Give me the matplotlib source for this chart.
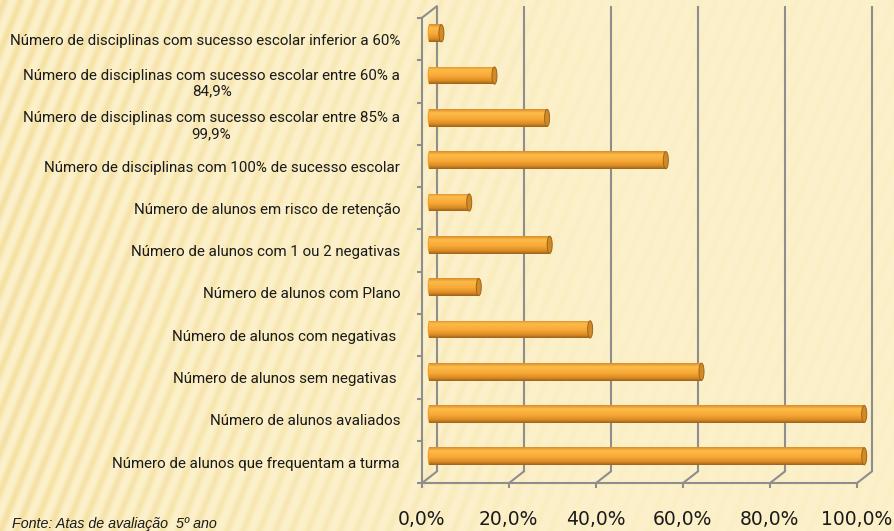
import numpy as np
import matplotlib
matplotlib.use("Agg")
import matplotlib.pyplot as plt
from matplotlib.patches import Ellipse
from matplotlib.colors import LinearSegmentedColormap
from matplotlib.ticker import FuncFormatter, FixedLocator

categorias = [
    "Número de disciplinas com sucesso escolar inferior a 60%",
    "Número de disciplinas com sucesso escolar entre 60% a\n84,9%",
    "Número de disciplinas com sucesso escolar entre 85% a\n99,9%",
    "Número de disciplinas com 100% de sucesso escolar",
    "Número de alunos em risco de retenção",
    "Número de alunos com 1 ou 2 negativas",
    "Número de alunos com Plano",
    "Número de alunos com negativas ",
    "Número de alunos sem negativas ",
    "Número de alunos avaliados",
    "Número de alunos que frequentam a turma",
]
percentagens = [2.8, 15.0, 27.1, 54.4, 9.2, 27.7, 11.4, 37.0, 62.6, 100.0, 100.0]
ticks_x = [0, 20, 40, 60, 80, 100]
fonte = "Fonte: Atas de avaliação  5º ano"

W, H = 894, 531
fig = plt.figure(figsize=(W / 100, H / 100), dpi=100)

# fundo com riscas diagonais (so decoracao)
bg = fig.add_axes([0, 0, 1, 1], zorder=-10)
yy, xx = np.mgrid[0:H, 0:W].astype(float)
ang = np.deg2rad(68)
fase = xx * np.sin(ang) + yy * np.cos(ang)
s = 0.5 + 0.5 * np.sin(2 * np.pi * fase / 15.0)
s2 = 0.5 + 0.5 * np.sin(2 * np.pi * fase / 41.0 + 1.0)
fade = np.clip(1.0 - xx / 700.0, 0.15, 1.0)
base = np.array([252, 241, 203]) / 255
escuro = np.array([244, 226, 160]) / 255
rosa = np.array([246, 219, 172]) / 255
k = (s ** 1.5 * fade)[..., None]
mix = escuro * (1 - 0.4 * s2[..., None]) + rosa * 0.4 * s2[..., None]
img = base * (1 - k) + mix * k
bg.imshow(img, aspect="auto", extent=(0, 1, 0, 1), origin="upper")
bg.set_xlim(0, 1)
bg.set_ylim(0, 1)
bg.axis("off")

# eixo principal (plano da frente)
ax = fig.add_axes([421.7 / W, 1 - 483.3 / H, 435 / W, 465.3 / H])
ax.set_facecolor("none")
n = len(categorias)
pos = np.arange(n)
px_x = 435 / 100
px_y = 465.3 / n
dxb, dyb = 15 / px_x, 11.7 / px_y
dxm, dym = dxb / 2, dyb / 2
cinza = "#8E8E8E"

# parede do fundo e chao
for t in ticks_x:
    ax.plot([t + dxb, t + dxb], [n - 0.5 - dyb, -0.5 - dyb], color=cinza, lw=1.5,
            clip_on=False, zorder=1, solid_capstyle="butt")
    ax.plot([t, t + dxb], [n - 0.5, n - 0.5 - dyb], color=cinza, lw=1.5,
            clip_on=False, zorder=1)
ax.plot([0, dxb], [-0.5, -0.5 - dyb], color=cinza, lw=1.5, clip_on=False, zorder=1)

# barras cilindricas
cmap = LinearSegmentedColormap.from_list(
    "cil", [(0, "#D98C26"), (0.2, "#FCBB4A"), (0.55, "#F8A835"),
            (0.82, "#DB8C24"), (1, "#9C621A")])
grad = np.linspace(0, 1, 64)[:, None]
bh = 0.42
bars = ax.barh(pos - dym, percentagens, left=dxm, height=bh, color="#F6A534",
               lw=0, zorder=3)
for b, v, p in zip(bars, percentagens, pos):
    yc = p - dym
    ax.add_patch(Ellipse((dxm, yc), width=3 / px_x, height=bh, facecolor="#EFA030",
                         lw=0, zorder=2.9, clip_on=False))
    im = ax.imshow(grad, cmap=cmap, aspect="auto", origin="upper", zorder=3.1,
                   extent=(dxm, dxm + v, yc + bh / 2, yc - bh / 2))
    im.set_clip_path(b)
    ax.add_patch(Ellipse((dxm + v, yc), width=5 / px_x, height=bh * 0.97,
                         facecolor="#D08A26", edgecolor="#A0641A", lw=0.7,
                         zorder=3.2, clip_on=False))

ax.set_xlim(0, 100)
ax.set_ylim(n - 0.5, -0.5)

ax.set_xticks(ticks_x)
ax.xaxis.set_major_formatter(FuncFormatter(lambda v, _: f"{v:.1f}".replace(".", ",") + "%"))
ax.tick_params(axis="x", length=3.6, width=1.5, color=cinza, pad=15.5, labelsize=13.5,
               labelcolor="#1a1a1a")
ax.set_yticks(pos)
ax.set_yticklabels(categorias, fontsize=10.9, fontfamily="Roboto", linespacing=1.15,
                   multialignment="center", color="#1a1a1a")
ax.yaxis.set_minor_locator(FixedLocator(np.arange(n + 1) - 0.5))
ax.tick_params(axis="y", which="major", length=0, pad=15.6)
ax.tick_params(axis="y", which="minor", length=3.6, width=1.5, color=cinza)
for sp in ["top", "right"]:
    ax.spines[sp].set_visible(False)
for sp in ["left", "bottom"]:
    ax.spines[sp].set_color(cinza)
    ax.spines[sp].set_linewidth(1.5)

fig.text(11.5 / W, 3.2 / H, fonte, fontsize=10.3, style="italic",
         fontfamily="Liberation Sans", color="#1a1a1a", va="baseline")

fig.savefig("out.png", dpi=100)
